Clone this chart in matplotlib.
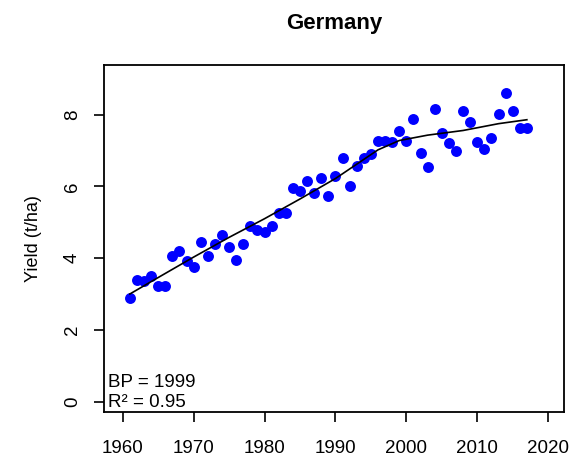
import numpy as np
import matplotlib
matplotlib.use('Agg')
import matplotlib.pyplot as plt

plt.rcParams['font.family'] = ['Liberation Sans', 'DejaVu Sans']

# Rendement observé (t/ha), 1961-2017
years = list(range(1961, 2018))
yields = [2.88, 3.39, 3.37, 3.51, 3.23, 3.23, 4.05, 4.21, 3.91, 3.74,
          4.44, 4.06, 4.39, 4.65, 4.32, 3.95, 4.39, 4.91, 4.79, 4.74,
          4.91, 5.25, 5.25, 5.97, 5.86, 6.14, 5.81, 6.23, 5.72, 6.28,
          6.78, 6.02, 6.57, 6.78, 6.91, 7.28, 7.28, 7.24, 7.55, 7.28,
          7.89, 6.93, 6.53, 8.16, 7.49, 7.21, 6.99, 8.09, 7.81, 7.25,
          7.04, 7.35, 8.02, 8.60, 8.09, 7.64, 7.64]

# Courbe ajustée
fit_years = [1961, 1965, 1970, 1975, 1980, 1985, 1990, 1993, 1996, 1999, 2003, 2008, 2013, 2017]
fit_vals = [3.00, 3.46, 4.03, 4.58, 5.10, 5.65, 6.22, 6.62, 7.02, 7.28, 7.43, 7.56, 7.75, 7.86]

fig = plt.figure(figsize=(5.7, 4.61), dpi=100)
ax = fig.add_axes([0.1825, 0.1063, 0.807, 0.753])

ax.scatter(years, yields, s=62, color='blue', zorder=2, linewidths=0)
ax.plot(fit_years, fit_vals, color='black', lw=1.2, zorder=3)

ax.set_xlim(1957.36, 2022.24)
ax.set_ylim(-0.29, 9.39)
ax.set_xticks([1960, 1970, 1980, 1990, 2000, 2010, 2020])
ax.set_yticks([0, 2, 4, 6, 8])
ax.tick_params(direction='out', length=7.5, width=1.2, labelsize=13.5)
ax.tick_params(axis='x', pad=13)
ax.tick_params(axis='y', pad=9)
for lab in ax.get_yticklabels():
    lab.set_rotation(90)
    lab.set_va('center')
for sp in ax.spines.values():
    sp.set_linewidth(1.3)

ax.set_ylabel('Yield (t/ha)', fontsize=13, labelpad=16)
fig.text(0.586, 0.95, 'Germany', fontsize=16, fontweight='bold', ha='center', va='center')

ax.text(0.008, 0.085, 'BP = 1999', transform=ax.transAxes, fontsize=13.5, va='center')
ax.text(0.008, 0.028, 'R² = 0.95', transform=ax.transAxes, fontsize=13.5, va='center')

fig.savefig('out.png', dpi=100)
